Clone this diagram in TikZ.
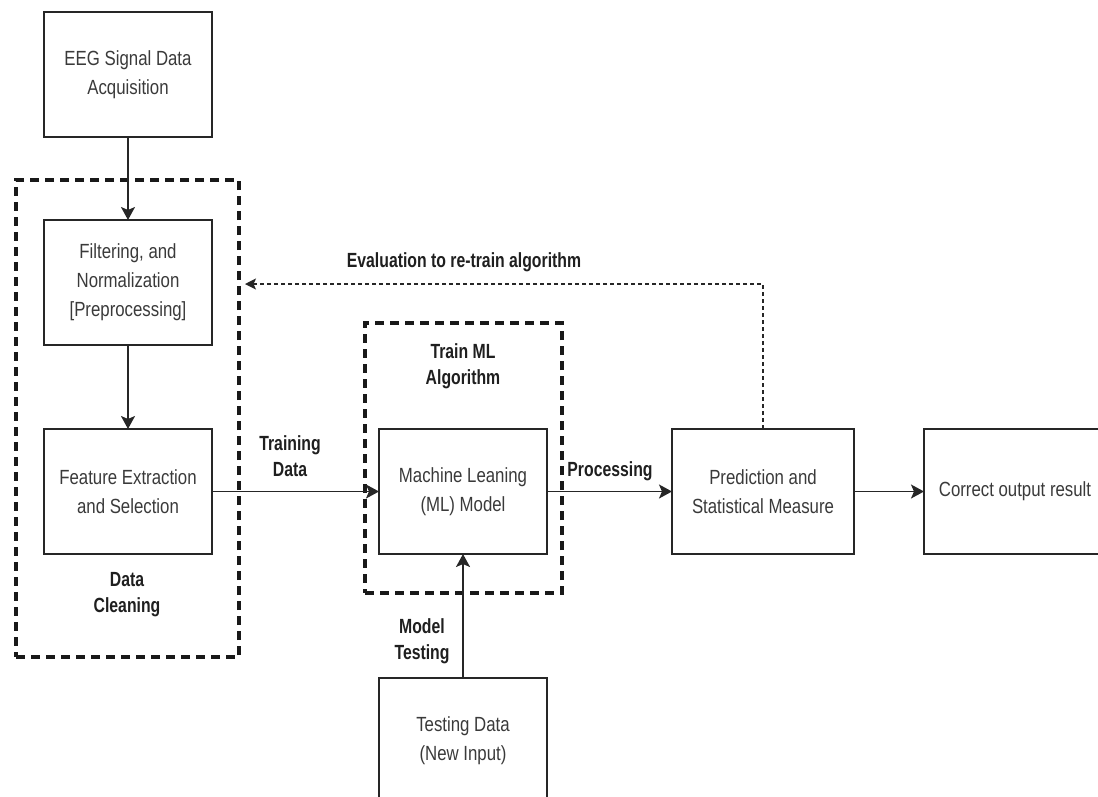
\documentclass[tikz,border=0pt]{standalone}
\usepackage{fontspec}
\setmainfont{Liberation Sans}[FakeStretch=0.82,BoldFeatures={FakeStretch=0.77}]
\usetikzlibrary{positioning,arrows.meta}
\definecolor{boxline}{HTML}{262626}
\definecolor{boxtext}{HTML}{3A3A3A}
\begin{document}
\begin{tikzpicture}[x=1pt,y=1pt,
every node/.style={font=\fontsize{20.5}{29}\selectfont, align=center},
stage/.style={draw=boxline, line width=1.9pt, minimum width=168pt, minimum height=125pt, inner sep=0pt, outer sep=0pt, text=boxtext},
group/.style={draw=black!90, line width=3.4pt, dash pattern=on 9pt off 6pt, inner sep=0pt},
lbl/.style={font=\fontsize{20.5}{26}\selectfont\bfseries, text=black!88},
flow/.style={draw=boxline, line width=1.8pt, -{Stealth[length=13pt,width=14pt,inset=3pt]}},
feedback/.style={draw=boxline, line width=1.4pt, dash pattern=on 4pt off 3pt, -{Stealth[length=11pt,width=11pt,inset=2.5pt]}}
]
\useasboundingbox (0,0) rectangle (1098,-796);
\node[group, minimum width=223pt, minimum height=477pt] (clean) at (127.5,-418.5) {};
\node[group, minimum width=197pt, minimum height=270pt] (train) at (463.5,-458) {};
\node[stage] (eeg) at (128,-74.5) {EEG Signal Data\\Acquisition};
\node[stage, below=83pt of eeg] (filter) {Filtering, and\\Normalization\\{[}Preprocessing{]}};
\node[stage, below=84pt of filter] (feature) {Feature Extraction\\and Selection};
\node[stage, right=167pt of feature] (ml) {Machine Leaning\\(ML) Model};
\node[stage, right=125pt of ml, minimum width=182pt] (pred) {Prediction and\\Statistical Measure};
\node[stage, right=70pt of pred, minimum width=182pt] (out) {Correct output result};
\node[stage, below=124pt of ml] (test) {Testing Data\\(New Input)};
\node[lbl] (cleanlbl) at (127,-595) {Data\\Cleaning};
\node[lbl] (trainlbl) at (463,-366) {Train ML\\Algorithm};
\node[lbl] (datalbl) at (290,-456) {Training\\Data};
\node[lbl] (proclbl) at (610,-471) {Processing};
\node[lbl] (testlbl) at (422,-641) {Model\\Testing};
\node[lbl] (evallbl) at (464,-262) {Evaluation to re-train algorithm};
\coordinate (back) at (245,-284);
\draw[flow] (eeg) -- (filter);
\draw[flow] (filter) -- (feature);
\draw[flow] (feature) -- (ml);
\draw[flow] (ml) -- (pred);
\draw[flow] (pred) -- (out);
\draw[flow] (test) -- (ml);
\draw[feedback] (pred.north) |- (back);
\end{tikzpicture}
\end{document}
